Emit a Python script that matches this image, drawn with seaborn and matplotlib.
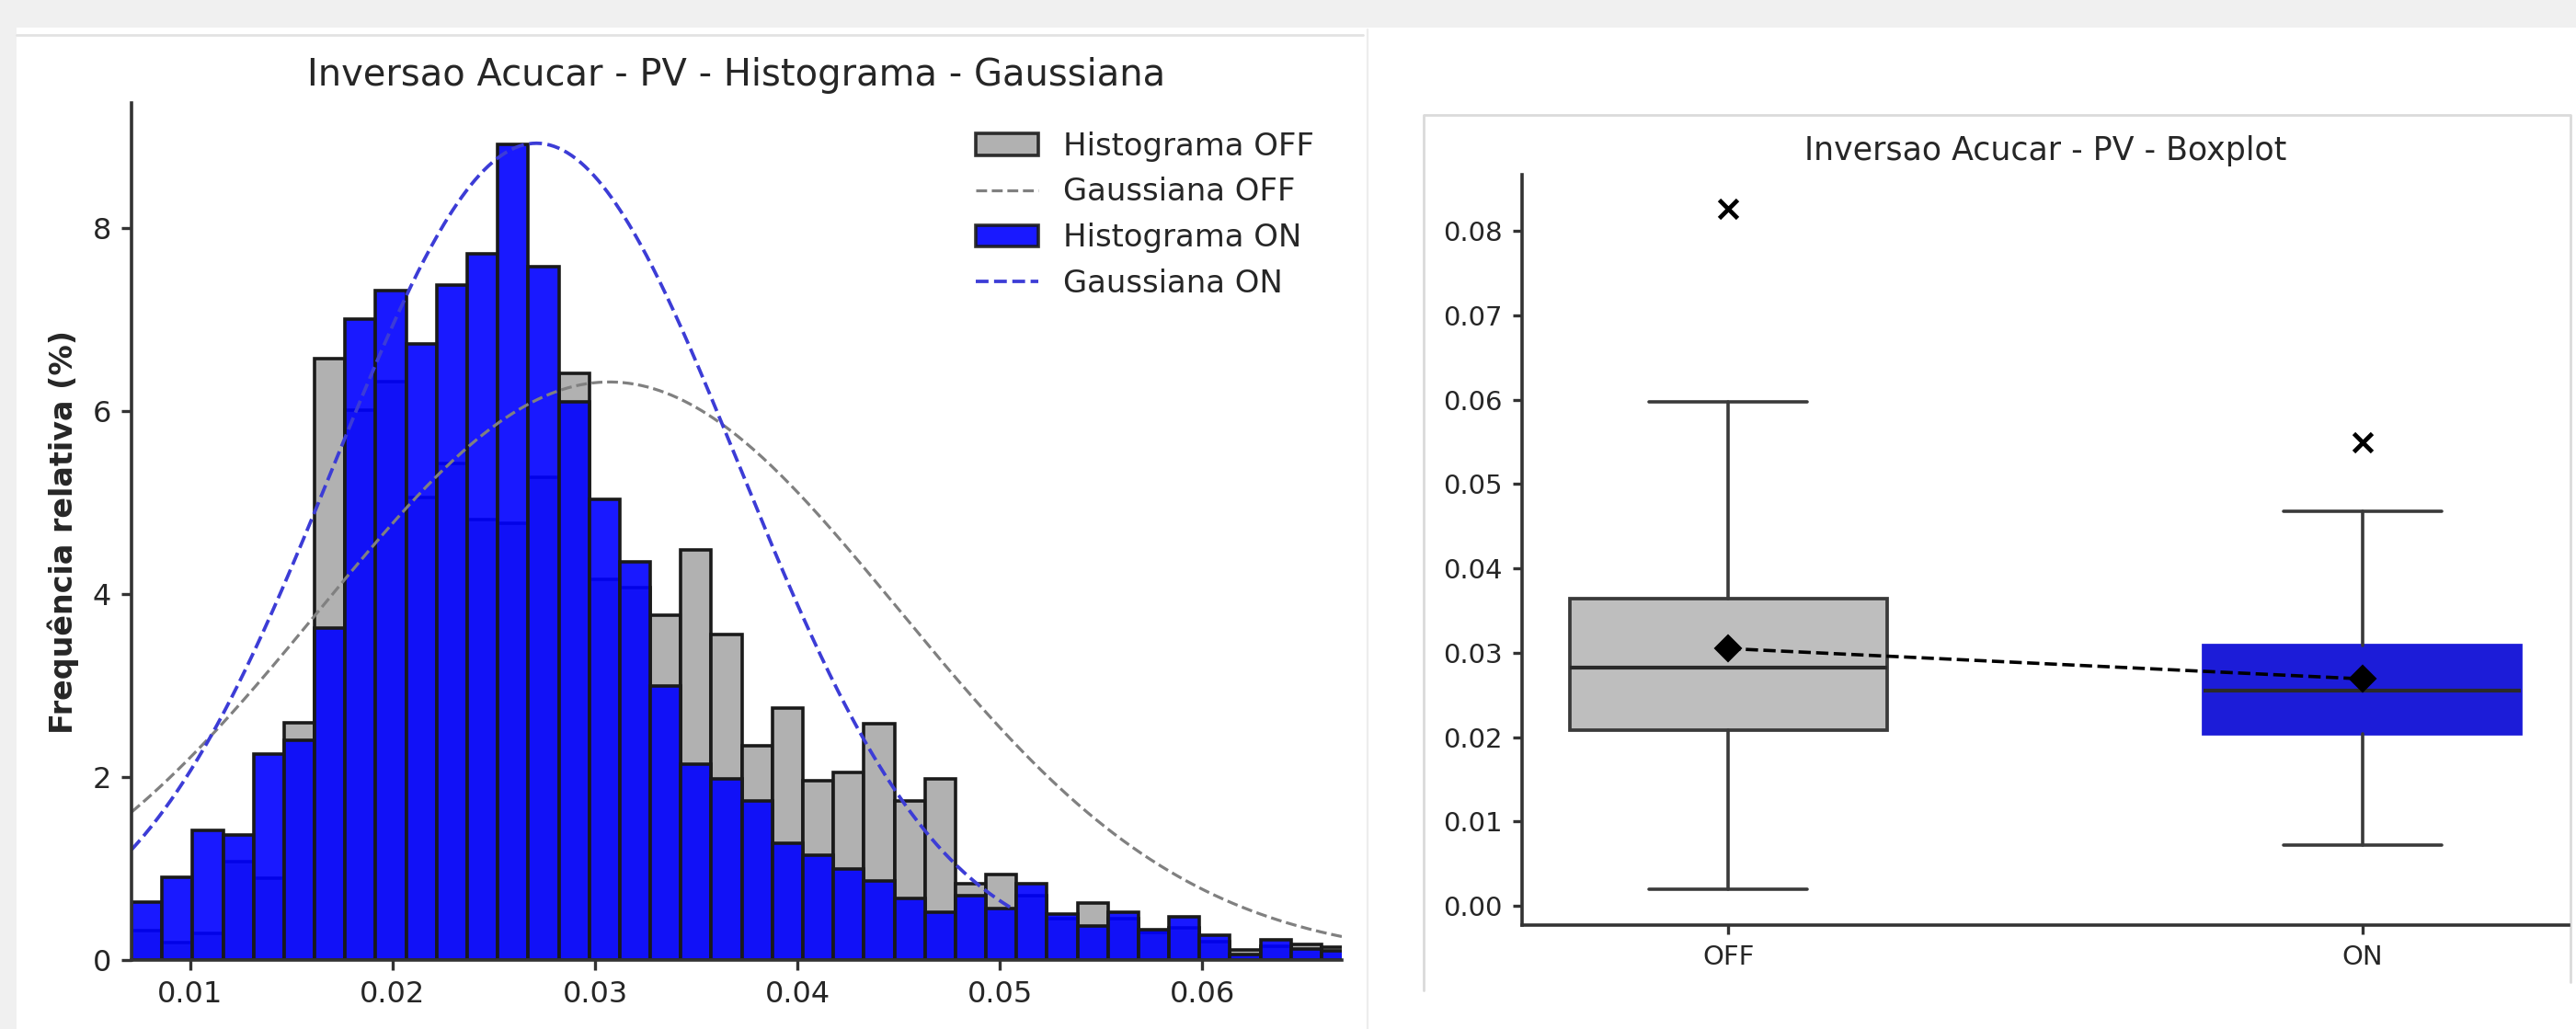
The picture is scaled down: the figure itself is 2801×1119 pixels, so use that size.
import numpy as np
import pandas as pd
import matplotlib
matplotlib.use("Agg")
import matplotlib.pyplot as plt
import seaborn as sns
from matplotlib.patches import Patch, Rectangle
from matplotlib.lines import Line2D

# ---------------- data ----------------
bin_start = 0.00709
bin_width = 0.001508
off_freq = [0.32, 0.19, 0.29, 1.08, 0.89, 2.59, 6.58, 6.01, 6.32, 5.06,
            5.43, 4.82, 4.78, 5.28, 6.41, 4.16, 4.07, 3.77, 4.48, 3.56,
            2.34, 2.75, 1.96, 2.05, 2.58, 1.74, 1.98, 0.83, 0.93, 0.70,
            0.45, 0.62, 0.45, 0.30, 0.35, 0.20, 0.11, 0.15, 0.17, 0.14]
on_freq = [0.63, 0.90, 1.42, 1.37, 2.25, 2.40, 3.63, 7.01, 7.32, 6.74,
           7.38, 7.72, 8.92, 7.58, 6.10, 5.04, 4.35, 3.00, 2.14, 1.98,
           1.74, 1.28, 1.15, 1.00, 0.86, 0.67, 0.52, 0.70, 0.56, 0.83,
           0.50, 0.37, 0.52, 0.33, 0.47, 0.27, 0.06, 0.22, 0.12, 0.10]

# fitted Gaussians (mean, std, peak height in %, x-range drawn)
gauss_off_mean, gauss_off_std, gauss_off_peak = 0.0307, 0.0143, 6.32
gauss_off_range = [0.00709, 0.0669]
gauss_on_mean, gauss_on_std, gauss_on_peak = 0.0271, 0.0100, 8.93
gauss_on_range = [0.00709, 0.0505]

hist_xticks = [0.01, 0.02, 0.03, 0.04, 0.05, 0.06]
hist_yticks = [0, 2, 4, 6, 8]

box_labels = ["OFF", "ON"]
box_whislo = [0.0020, 0.0072]
box_q1 = [0.0208, 0.0204]
box_med = [0.0282, 0.0255]
box_q3 = [0.0364, 0.0309]
box_whishi = [0.0598, 0.0468]
box_flier = [0.0827, 0.0550]
box_mean = [0.0305, 0.0269]
box_yticks = [0.00, 0.01, 0.02, 0.03, 0.04, 0.05, 0.06, 0.07, 0.08]

# ---------------- style ----------------
sns.set_theme(style="ticks")
plt.rcParams['font.family'] = ['DejaVu Sans']
TXT = '#262626'
SPINE = '#333333'

W, H = 2801, 1119
DPI = 200
fig = plt.figure(figsize=(W / DPI, H / DPI), dpi=DPI, facecolor='white')

def fx(px):
    return px / W

def fy(py):
    return 1 - py / H

# screenshot-like background pieces
fig.add_artist(Rectangle((0, fy(30)), 1, 30 / H, transform=fig.transFigure,
                         facecolor='#f0f0f0', edgecolor='none', zorder=-10))
fig.add_artist(Rectangle((0, 0), fx(18), 1, transform=fig.transFigure,
                         facecolor='#f0f0f0', edgecolor='none', zorder=-10))
fig.add_artist(Line2D([fx(18), fx(1482)], [fy(38), fy(38)], transform=fig.transFigure,
                      color='#e2e2e2', lw=1.0, zorder=-9))
fig.add_artist(Line2D([fx(1487), fx(1487)], [0, fy(32)], transform=fig.transFigure,
                      color='#ededed', lw=0.8, zorder=-9))
fig.add_artist(Line2D([fx(1548), fx(1548), fx(2795), fx(2795)],
                      [fy(1077), fy(125), fy(125), fy(1068)], transform=fig.transFigure,
                      color='#dadada', lw=1.0, zorder=-9))

# ---------------- histogram panel ----------------
ax1 = fig.add_axes([fx(143), fy(1044), (1459 - 143) / W, (1044 - 112) / H])
edges = (bin_start + bin_width * np.arange(len(off_freq) + 1)).tolist()
centers = [(edges[i] + edges[i + 1]) / 2 for i in range(len(off_freq))]
df_off = pd.DataFrame({"x": centers, "w": off_freq})
df_on = pd.DataFrame({"x": centers, "w": on_freq})

off_color = 'darkgray'
on_color = 'blue'
on_line = '#3c3cd6'
BAR_LW = 1.3
sns.histplot(data=df_off, x="x", weights="w", bins=edges, color=off_color, alpha=0.9,
             edgecolor='#1a1a1a', linewidth=BAR_LW, ax=ax1)
xs_off = np.linspace(gauss_off_range[0], gauss_off_range[1], 400)
ys_off = gauss_off_peak * np.exp(-0.5 * ((xs_off - gauss_off_mean) / gauss_off_std) ** 2)
sns.lineplot(x=xs_off, y=ys_off, ax=ax1, color='gray', linestyle='--', linewidth=1.15)

sns.histplot(data=df_on, x="x", weights="w", bins=edges, color=on_color, alpha=0.9,
             edgecolor='#1a1a1a', linewidth=BAR_LW, ax=ax1)
xs_on = np.linspace(gauss_on_range[0], gauss_on_range[1], 400)
ys_on = gauss_on_peak * np.exp(-0.5 * ((xs_on - gauss_on_mean) / gauss_on_std) ** 2)
sns.lineplot(x=xs_on, y=ys_on, ax=ax1, color=on_line, linestyle='--', linewidth=1.35)

ax1.set_xlim(0.00709, 0.0669)
ax1.set_ylim(0, 9.37)
ax1.set_xticks(hist_xticks)
ax1.set_xticklabels([f"{v:.2f}" for v in hist_xticks])
ax1.set_yticks(hist_yticks)
ax1.set_yticklabels([str(v) for v in hist_yticks])
ax1.set_xlabel("")
ax1.set_ylabel("Frequência relativa (%)", fontsize=12, fontweight='bold', color=TXT, labelpad=5)
ax1.set_title("Inversao Acucar - PV - Histograma - Gaussiana", fontsize=14.4, color=TXT, pad=7)
ax1.tick_params(labelsize=11.5, length=4, width=1.2, color=SPINE, labelcolor=TXT, pad=4)
sns.despine(ax=ax1)
for s in ['left', 'bottom']:
    ax1.spines[s].set_color(SPINE)
    ax1.spines[s].set_linewidth(1.3)

handles = [
    Patch(facecolor=off_color, alpha=0.9, edgecolor='#1a1a1a', linewidth=BAR_LW, label='Histograma OFF'),
    Line2D([], [], color='gray', linestyle='--', linewidth=1.15, label='Gaussiana OFF'),
    Patch(facecolor=on_color, alpha=0.9, edgecolor='#1a1a1a', linewidth=BAR_LW, label='Histograma ON'),
    Line2D([], [], color=on_line, linestyle='--', linewidth=1.35, label='Gaussiana ON'),
]
leg = ax1.legend(handles=handles, loc='upper right', frameon=False, fontsize=12.2)
for t in leg.get_texts():
    t.set_color(TXT)

# ---------------- boxplot panel ----------------
ax2 = fig.add_axes([fx(1655), fy(1006), (2793 - 1655) / W, (1006 - 190) / H])
stats = []
for i, lab in enumerate(box_labels):
    stats.append(dict(label=lab, whislo=box_whislo[i], q1=box_q1[i], med=box_med[i],
                      q3=box_q3[i], whishi=box_whishi[i], fliers=[box_flier[i]]))
LINE = '#3a3a3a'
bp = ax2.bxp(stats, positions=[0, 1], widths=0.5, patch_artist=True, showfliers=True,
             boxprops=dict(linewidth=1.35, edgecolor=LINE),
             medianprops=dict(color='#2a2a2a', linewidth=1.5),
             whiskerprops=dict(color=LINE, linewidth=1.3),
             capprops=dict(color=LINE, linewidth=1.3),
             flierprops=dict(marker='x', markeredgecolor='black', markersize=7.5,
                             markeredgewidth=1.7, linestyle='none'))
box_faces = ['#bebebe', '#1c1cd8']
box_edges = [LINE, '#1c1cd8']
for patch, fc, ec in zip(bp['boxes'], box_faces, box_edges):
    patch.set_facecolor(fc)
    patch.set_edgecolor(ec)

sns.lineplot(x=[0, 1], y=box_mean, ax=ax2, color='black', linestyle='--', linewidth=1.3,
             marker='D', markersize=7, markeredgecolor='black', zorder=5)

ax2.set_xlim(-0.325, 1.325)
ax2.set_ylim(-0.0023, 0.0867)
ax2.set_xticks([0, 1])
ax2.set_xticklabels(box_labels)
ax2.set_yticks(box_yticks)
ax2.set_yticklabels([f"{v:.2f}" for v in box_yticks])
ax2.set_title("Inversao Acucar - PV - Boxplot", fontsize=12.5, color=TXT, pad=5.8)
ax2.tick_params(labelsize=10.5, length=3.6, width=1.2, color=SPINE, labelcolor=TXT, pad=4)
sns.despine(ax=ax2)
for s in ['left', 'bottom']:
    ax2.spines[s].set_color(SPINE)
    ax2.spines[s].set_linewidth(1.3)

fig.savefig("out.png", dpi=DPI, facecolor='white')
